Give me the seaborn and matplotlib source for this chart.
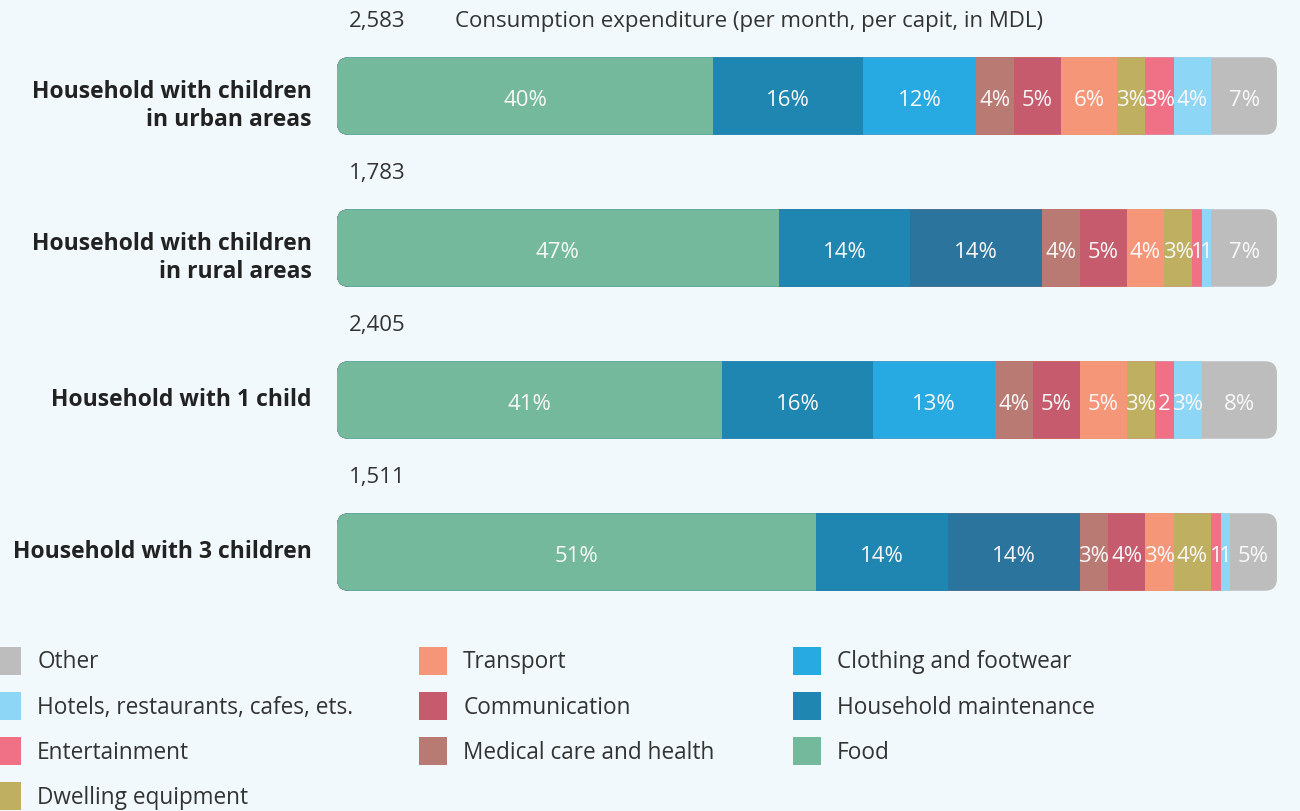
import pandas as pd
import matplotlib.pyplot as plt
from matplotlib.patches import FancyBboxPatch, Patch
import seaborn as sns

# Data (shares of consumption expenditure, %)
households = ['Household with children\nin urban areas',
              'Household with children\nin rural areas',
              'Household with 1 child',
              'Household with 3 children']
totals = ['2,583', '1,783', '2,405', '1,511']
categories = ['Food', 'Household maintenance', 'Clothing and footwear',
              'Medical care and health', 'Communication', 'Transport',
              'Dwelling equipment', 'Entertainment',
              'Hotels, restaurants, cafes, ets.', 'Other']
urban = [40, 16, 12, 4, 5, 6, 3, 3, 4, 7]
rural = [47, 14, 14, 4, 5, 4, 3, 1, 1, 7]
one_child = [41, 16, 13, 4, 5, 5, 3, 2, 3, 8]
three_children = [51, 14, 14, 3, 4, 3, 4, 1, 1, 5]
header = 'Consumption expenditure (per month, per capit, in MDL)'

BG = '#F2F9FC'
colors = {
    'Food': '#74B99B',
    'Household maintenance': '#1F86B1',
    'Clothing and footwear': '#27AAE1',
    'Medical care and health': '#B97A74',
    'Communication': '#C55B6C',
    'Transport': '#F69679',
    'Dwelling equipment': '#BFAF61',
    'Entertainment': '#F07086',
    'Hotels, restaurants, cafes, ets.': '#8DD6F5',
    'Other': '#BDBDBD',
}
# the third segment is drawn darker in the rural / 3-children rows
dark_clothing = '#2A749D'
dark_rows = [1, 3]

sns.set_theme(style='white')
plt.rcParams['font.family'] = ['Open Sans', 'DejaVu Sans']

# long table with stacked positions
records = []
for i, (hh, vals) in enumerate(zip(households, [urban, rural, one_child, three_children])):
    start = 0
    for cat, v in zip(categories, vals):
        records.append({'household': hh, 'row': i, 'category': cat,
                        'share': v, 'start': start, 'end': start + v})
        start += v
df = pd.DataFrame(records)

fig = plt.figure(figsize=(13, 8.11), dpi=100)
fig.patch.set_facecolor(BG)
ax = fig.add_axes([337 / 1300, 1 - 628 / 811, 940 / 1300, 608 / 811])
ax.set_facecolor(BG)

bar_h = 0.51
# stacked bars: draw cumulative totals from the last category backwards
for cat in reversed(categories):
    sub = df[df['category'] == cat]
    pal = {}
    for _, r in sub.iterrows():
        if cat == 'Clothing and footwear' and r['row'] in dark_rows:
            pal[r['household']] = dark_clothing
        else:
            pal[r['household']] = colors[cat]
    sns.barplot(data=sub, x='end', y='household', hue='household', palette=pal,
                orient='h', width=bar_h, saturation=1, errorbar=None,
                legend=False, linewidth=0, edgecolor='none', ax=ax)

ax.set_xlim(0, 100)
ax.set_ylim(3.5, -0.5)

# rounded ends via clip paths
aspect = (940 / 100) / (608 / 4)
clips = []
for i in range(len(households)):
    clip = FancyBboxPatch((0, i - bar_h / 2), 100, bar_h,
                          boxstyle='round,pad=0,rounding_size=1.3',
                          mutation_aspect=aspect, facecolor='none',
                          edgecolor='none', transform=ax.transData)
    ax.add_patch(clip)
    clips.append(clip)
for p in ax.patches:
    if p in clips:
        continue
    row = int(round(p.get_y() + p.get_height() / 2))
    p.set_clip_path(clips[row])

# segment labels
for _, r in df.iterrows():
    v = r['share']
    label = f"{v}%" if v >= 3 else f"{v}"
    ax.text(r['start'] + v / 2, r['row'] + 0.03, label, ha='center', va='center',
            color='#F8F8F8', fontsize=16)

# row labels, totals
for i, hh in enumerate(households):
    dy = 0.066 if '\n' in hh else 0.0
    ax.text(-2.66, i + dy, hh, ha='right', va='center', fontsize=16.5,
            fontweight='bold', color='#222222', linespacing=1.2)
    ax.text(1.3, i - 0.487, totals[i], ha='left', va='center', fontsize=16,
            color='#333333')
ax.text(12.55, -0.487, header, ha='left', va='center', fontsize=16,
        color='#333333')

ax.set_xticks([])
ax.set_yticks([])
ax.set_xlabel('')
ax.set_ylabel('')
sns.despine(ax=ax, left=True, bottom=True)

# legend in three columns
legend_cols = [categories[::-1][:4], categories[::-1][4:7], categories[::-1][7:]]
col_x = [-7, 419, 793]
for cats, x0 in zip(legend_cols, col_x):
    handles = [Patch(facecolor=colors[c], edgecolor='none', label=c) for c in cats]
    lg = fig.legend(handles=handles, loc='upper left',
                    bbox_to_anchor=(x0 / 1300, 1 - 647 / 811),
                    frameon=False, fontsize=16.3, borderpad=0, borderaxespad=0,
                    handlelength=1.24, handleheight=1.53, handletextpad=0.71,
                    labelspacing=0.75)
    for t in lg.get_texts():
        t.set_color('#333333')

fig.savefig('out.png', dpi=100, facecolor=BG)
